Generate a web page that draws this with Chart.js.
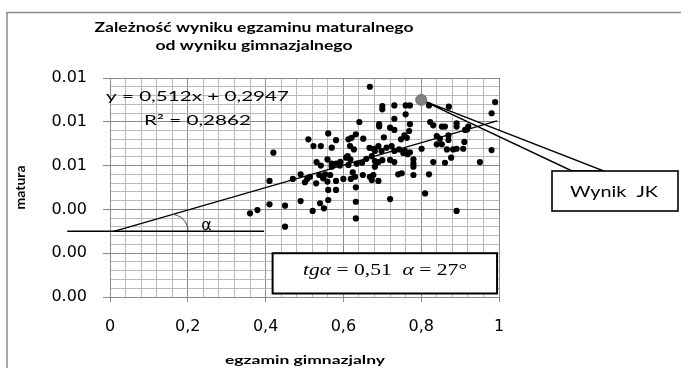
<!DOCTYPE html>
<html>
<head>
<meta charset="utf-8">
<script src="https://cdn.jsdelivr.net/npm/chart.js@4/dist/chart.umd.min.js"></script>
<style>
  html, body { margin: 0; padding: 0; background: #fff; }
</style>
</head>
<body>
<canvas id="scatterChart" width="681" height="368"></canvas>
<script>
// wyniki: egzamin gimnazjalny (x) i matura (y)
const gimnazjalny = [
  0.668, 0.700, 0.700, 0.731, 0.760, 0.771, 0.820, 0.871, 0.990, 0.981,
  0.760, 0.731, 0.641, 0.692, 0.692, 0.720, 0.731, 0.771, 0.769, 0.757,
  0.763, 0.748, 0.823, 0.831, 0.853, 0.861, 0.891, 0.891, 0.921, 0.840,
  0.848, 0.870, 0.870, 0.911, 0.853, 0.840, 0.866, 0.882, 0.891, 0.908,
  0.981, 0.951, 0.831, 0.861, 0.877, 0.711, 0.724, 0.731, 0.690, 0.681,
  0.698, 0.681, 0.690, 0.720, 0.731, 0.758, 0.765, 0.780, 0.780, 0.780,
  0.801, 0.420, 0.510, 0.561, 0.523, 0.542, 0.581, 0.570, 0.531, 0.613,
  0.621, 0.632, 0.617, 0.627, 0.651, 0.704, 0.667, 0.678, 0.743, 0.754,
  0.771, 0.542, 0.559, 0.570, 0.581, 0.592, 0.607, 0.611, 0.618, 0.634,
  0.648, 0.659, 0.673, 0.700, 0.410, 0.470, 0.490, 0.501, 0.507, 0.514,
  0.530, 0.538, 0.548, 0.553, 0.559, 0.566, 0.581, 0.600, 0.619, 0.624,
  0.630, 0.650, 0.561, 0.581, 0.632, 0.632, 0.632, 0.360, 0.379, 0.410,
  0.450, 0.450, 0.490, 0.521, 0.540, 0.550, 0.561, 0.741, 0.750, 0.780,
  0.820, 0.720, 0.810, 0.891, 0.570, 0.591, 0.613, 0.681, 0.677, 0.668,
  0.673, 0.690, 0.913, 0.918
];
const matura = [
  0.960, 0.872, 0.857, 0.875, 0.875, 0.875, 0.875, 0.869, 0.890, 0.839,
  0.834, 0.814, 0.799, 0.789, 0.779, 0.773, 0.763, 0.789, 0.758, 0.738,
  0.727, 0.720, 0.799, 0.784, 0.778, 0.778, 0.793, 0.778, 0.778, 0.735,
  0.723, 0.738, 0.717, 0.708, 0.697, 0.697, 0.674, 0.674, 0.677, 0.677,
  0.671, 0.616, 0.616, 0.613, 0.636, 0.682, 0.689, 0.667, 0.689, 0.667,
  0.667, 0.621, 0.616, 0.626, 0.616, 0.667, 0.652, 0.629, 0.610, 0.595,
  0.677, 0.659, 0.720, 0.747, 0.689, 0.689, 0.716, 0.682, 0.616, 0.720,
  0.727, 0.743, 0.689, 0.674, 0.723, 0.729, 0.681, 0.677, 0.674, 0.658,
  0.661, 0.600, 0.628, 0.609, 0.609, 0.617, 0.636, 0.643, 0.628, 0.609,
  0.613, 0.631, 0.643, 0.625, 0.530, 0.539, 0.560, 0.524, 0.539, 0.549,
  0.519, 0.557, 0.542, 0.560, 0.527, 0.557, 0.530, 0.539, 0.539, 0.569,
  0.549, 0.557, 0.489, 0.489, 0.501, 0.435, 0.359, 0.382, 0.397, 0.423,
  0.417, 0.321, 0.438, 0.393, 0.428, 0.405, 0.443, 0.560, 0.565, 0.557,
  0.560, 0.447, 0.473, 0.393, 0.595, 0.600, 0.603, 0.595, 0.557, 0.549,
  0.534, 0.530, 0.763, 0.765
];
const wynikJK = { x: 0.8, y: 0.9 };
const trendX = [0.01, 0.995];
const trendY = [0.300, 0.804];
const xTickLabels = ['0', '0,2', '0,4', '0,6', '0,8', '1'];
const yTickLabels = ['0.00', '0.00', '0.00', '0.01', '0.01', '0.01'];

const MAJOR = '#8c8c8c';
const MINOR = '#b9b9b9';

// tekst rozciagniety do zadanej szerokosci
function fitText(ctx, text, cx, baseline, font, width) {
  ctx.font = font;
  const sx = width / ctx.measureText(text).width;
  ctx.save();
  ctx.translate(cx, baseline);
  ctx.scale(sx, 1);
  ctx.textAlign = 'center';
  ctx.textBaseline = 'alphabetic';
  ctx.fillText(text, 0, 0);
  ctx.restore();
}

function mathText(ctx, parts, cx, baseline, size, width) {
  const fontOf = p => p[1] + ' ' + size + 'px "Liberation Serif"';
  let total = 0;
  parts.forEach(p => { ctx.font = fontOf(p); total += ctx.measureText(p[0]).width; });
  ctx.save();
  ctx.translate(cx - width / 2, baseline);
  ctx.scale(width / total, 1);
  ctx.textAlign = 'left';
  ctx.textBaseline = 'alphabetic';
  let x = 0;
  parts.forEach(p => {
    ctx.font = fontOf(p);
    ctx.fillText(p[0], x, 0);
    x += ctx.measureText(p[0]).width;
  });
  ctx.restore();
}

const extras = {
  id: 'extras',
  beforeDraw(chart) {
    const ctx = chart.ctx;
    ctx.save();
    ctx.fillStyle = '#fff';
    ctx.fillRect(0, 0, chart.width, chart.height);
    ctx.strokeStyle = '#8c8c8c';
    ctx.lineWidth = 1.5;
    ctx.beginPath();
    ctx.moveTo(7, chart.height);
    ctx.lineTo(7, 12.5);
    ctx.lineTo(chart.width, 12.5);
    ctx.stroke();
    ctx.restore();
  },
  beforeDatasetsDraw(chart) {
    const ctx = chart.ctx;
    const { x, y } = chart.scales;
    ctx.save();
    // dymek "Wynik JK"
    const px = x.getPixelForValue(wynikJK.x), py = y.getPixelForValue(wynikJK.y);
    ctx.fillStyle = '#fff';
    ctx.strokeStyle = '#000';
    ctx.lineWidth = 1.4;
    ctx.beginPath();
    ctx.moveTo(px, py);
    ctx.lineTo(572, 171);
    ctx.lineTo(604, 171);
    ctx.closePath();
    ctx.fill();
    ctx.stroke();
    ctx.lineWidth = 1.6;
    ctx.fillRect(552, 171, 126, 40);
    ctx.strokeRect(552, 171, 126, 40);

    // ramka z tg
    const bx = x.getPixelForValue(0.418), by = y.getPixelForValue(0.2);
    const bw = x.getPixelForValue(0.995) - bx, bh = y.getPixelForValue(0.016) - by;
    ctx.lineWidth = 2;
    ctx.fillRect(bx, by, bw, bh);
    ctx.strokeRect(bx, by, bw, bh);
    ctx.restore();
  },
  afterDatasetsDraw(chart) {
    const ctx = chart.ctx;
    const { x, y } = chart.scales;
    ctx.save();
    ctx.fillStyle = '#000';
    ctx.strokeStyle = '#000';

    // pozioma linia i kat alfa
    const y0 = y.getPixelForValue(0.30);
    ctx.lineWidth = 1.4;
    ctx.beginPath();
    ctx.moveTo(x.getPixelForValue(-0.11), y0);
    ctx.lineTo(x.getPixelForValue(0.396), y0);
    ctx.stroke();
    ctx.lineWidth = 1;
    ctx.strokeStyle = '#444';
    ctx.beginPath();
    ctx.arc(x.getPixelForValue(0.157), y0, 17, -Math.PI / 2, 0);
    ctx.stroke();
    ctx.font = '16px "DejaVu Sans"';
    ctx.textAlign = 'center';
    ctx.textBaseline = 'alphabetic';
    ctx.fillText('α', 206.5, 230);

    // tytul i opisy osi
    fitText(ctx, 'Zależność wyniku egzaminu maturalnego', 254, 31.5, 'bold 13px Lato', 319);
    fitText(ctx, 'od wyniku gimnazjalnego', 254, 49.5, 'bold 13px Lato', 197);
    fitText(ctx, 'egzamin gimnazjalny', 305, 363.5, 'bold 12px Lato', 160);
    ctx.save();
    ctx.translate(25, 187.5);
    ctx.rotate(-Math.PI / 2);
    fitText(ctx, 'matura', 0, 0, 'bold 13px Lato', 44);
    ctx.restore();

    // rownanie trendu
    fitText(ctx, 'y = 0,512x + 0,2947', 197.5, 100.7, '14px Lato', 183);
    fitText(ctx, 'R² = 0,2862', 197.5, 124.5, '14px Lato', 107);

    fitText(ctx, 'Wynik  JK', 614, 196.7, '16px Lato', 88);
    mathText(ctx, [['tgα', 'italic'], [' = 0,51  ', 'normal'], ['α', 'italic'], [' = 27°', 'normal']],
      385, 274.5, 17, 164);
    ctx.restore();
  }
};

function gridTicks(scale) {
  scale.ticks = [];
  for (let i = 0; i <= 25; i++) scale.ticks.push({ value: i * 0.04 });
}

new Chart(document.getElementById('scatterChart').getContext('2d'), {
  type: 'scatter',
  data: {
    datasets: [
      {
        label: 'Wynik JK',
        data: [wynikJK],
        pointRadius: 5.5,
        backgroundColor: '#808080',
        borderColor: '#737373',
        borderWidth: 1
      },
      {
        label: 'matura',
        data: gimnazjalny.map((g, i) => ({ x: g, y: matura[i] })),
        pointRadius: 3.1,
        backgroundColor: '#000',
        borderColor: '#000',
        borderWidth: 0
      },
      {
        type: 'line',
        label: 'trend',
        data: trendX.map((t, i) => ({ x: t, y: trendY[i] })),
        borderColor: '#000',
        borderWidth: 1.3,
        pointRadius: 0,
        fill: false
      }
    ]
  },
  options: {
    responsive: false,
    animation: false,
    layout: { padding: { left: 0, top: 78, right: 182, bottom: 0 } },
    plugins: { legend: { display: false }, tooltip: { enabled: false } },
    scales: {
      x: {
        type: 'linear',
        min: 0,
        max: 1,
        afterBuildTicks: gridTicks,
        afterFit: s => { s.height = 71; },
        grid: {
          color: c => (c.index % 5 === 0 ? MAJOR : MINOR),
          tickColor: c => (c.index % 5 === 0 ? MAJOR : 'rgba(0,0,0,0)'),
          tickLength: 5,
          lineWidth: 1
        },
        border: { color: MAJOR },
        ticks: {
          autoSkip: false,
          maxRotation: 0,
          padding: 15,
          color: '#000',
          font: { family: 'DejaVu Sans', size: 16 },
          callback: (v, i) => (i % 5 === 0 ? xTickLabels[i / 5] : '')
        }
      },
      y: {
        type: 'linear',
        min: 0,
        max: 1,
        afterBuildTicks: gridTicks,
        afterFit: s => { s.width = 110; },
        grid: {
          color: c => (c.index % 5 === 0 ? MAJOR : MINOR),
          tickColor: c => (c.index % 5 === 0 ? MAJOR : 'rgba(0,0,0,0)'),
          tickLength: 7,
          lineWidth: 1
        },
        border: { color: MAJOR },
        ticks: {
          autoSkip: false,
          padding: 16,
          color: '#000',
          font: { family: 'DejaVu Sans', size: 16 },
          callback: (v, i) => (i % 5 === 0 ? yTickLabels[i / 5] : '')
        }
      }
    }
  },
  plugins: [extras]
});
</script>
</body>
</html>
